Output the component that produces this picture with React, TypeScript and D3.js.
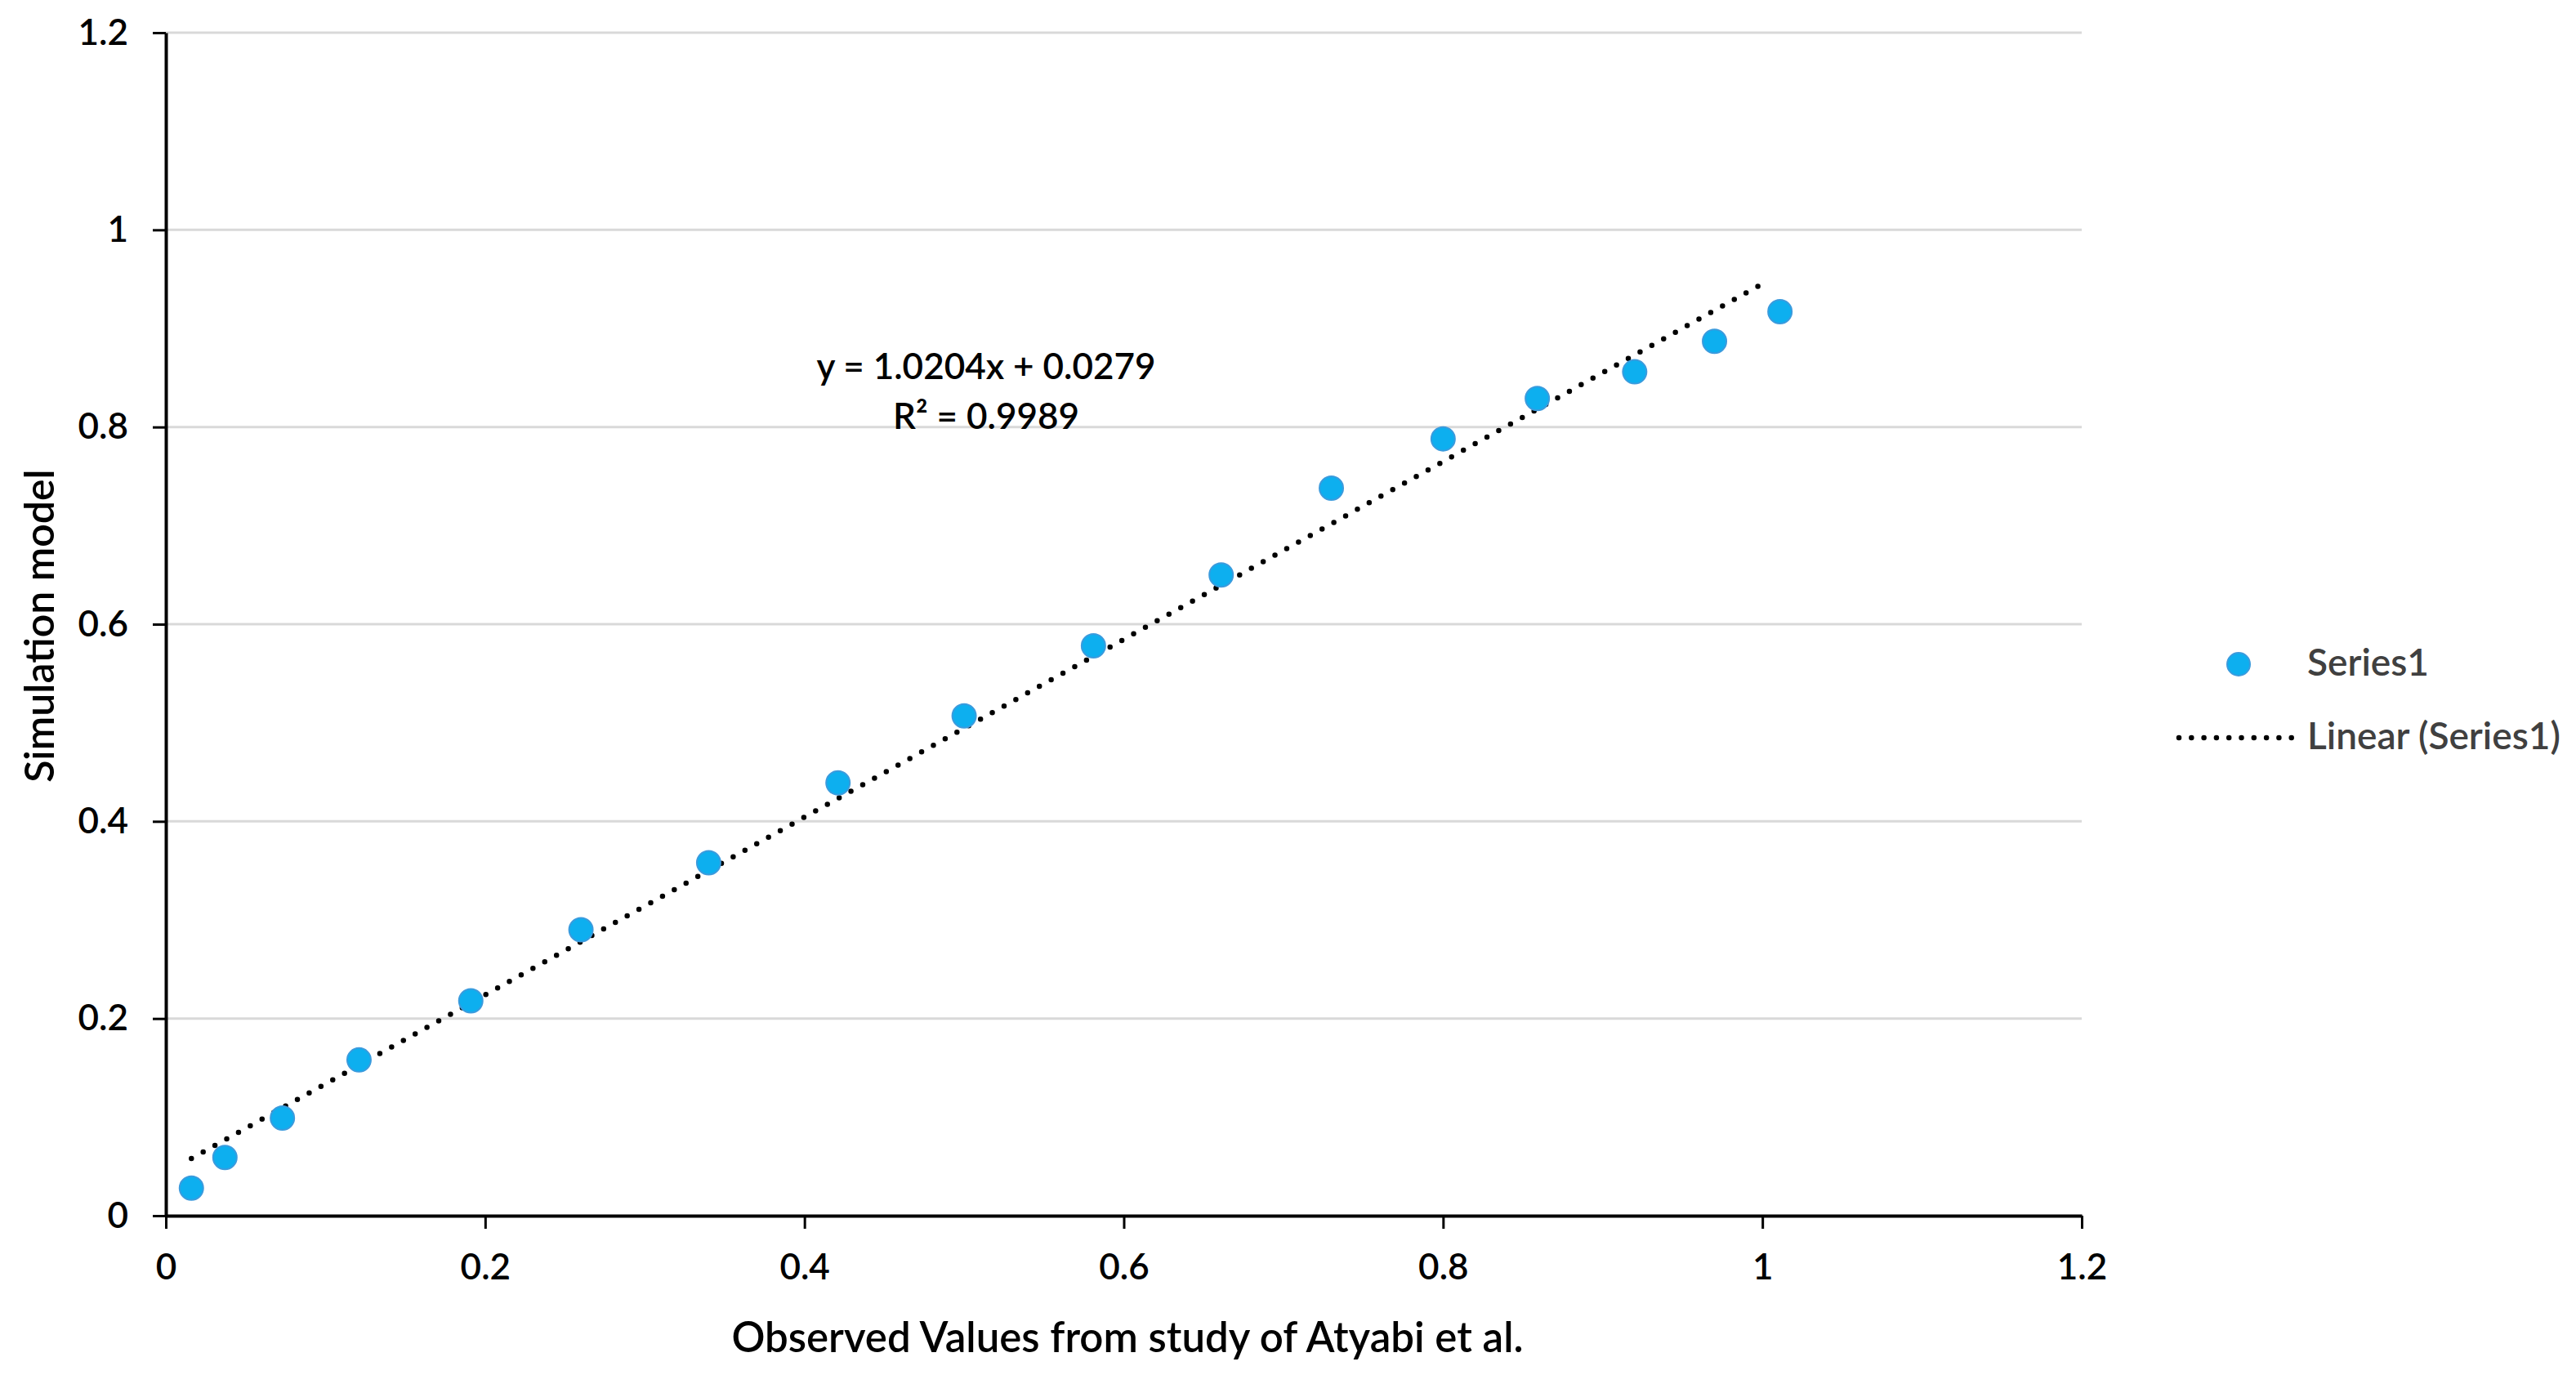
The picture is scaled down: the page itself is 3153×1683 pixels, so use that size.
import { useEffect, useRef } from 'react';
import * as d3 from 'd3';

// observed (x) vs simulated (y) values
const observed = [0.016, 0.037, 0.073, 0.121, 0.191, 0.26, 0.34, 0.421, 0.5, 0.581, 0.661, 0.73, 0.8, 0.859, 0.92, 0.97, 1.011];
const simulated = [0.028, 0.059, 0.099, 0.158, 0.218, 0.29, 0.358, 0.439, 0.507, 0.578, 0.65, 0.738, 0.788, 0.829, 0.856, 0.887, 0.917];

// trendline end points as drawn in the figure
const trendX = [0.016, 1.003];
const trendY = [0.058, 0.948];

const xTicks = [0, 0.2, 0.4, 0.6, 0.8, 1, 1.2];
const yTicks = [0, 0.2, 0.4, 0.6, 0.8, 1, 1.2];

const equationLines = ['y = 1.0204x + 0.0279', 'R² = 0.9989'];
const seriesName = 'Series1';
const trendName = 'Linear (Series1)';
const xTitle = 'Observed Values from study of Atyabi et al.';
const yTitle = 'Simulation model';

const FONT = 'Lato, "Open Sans", sans-serif';
const MARKER = '#0DAFEF';

export default function App() {
  const svgRef = useRef<SVGSVGElement>(null);

  useEffect(() => {
    if (!svgRef.current) return;
    d3.select(svgRef.current).selectAll('*').remove();

    const width = 3153;
    const height = 1683;
    const margin = { top: 40, right: 605, bottom: 195, left: 203 };

    const svg = d3.select(svgRef.current)
      .attr('width', width)
      .attr('height', height);

    svg.append('rect').attr('width', width).attr('height', height).attr('fill', '#fff');

    const x = d3.scaleLinear()
      .domain([0, 1.2])
      .range([margin.left, width - margin.right]);

    const y = d3.scaleLinear()
      .domain([0, 1.2])
      .range([height - margin.bottom, margin.top]);

    // gridlines
    svg.append('g')
      .selectAll('line')
      .data(yTicks.filter(d => d > 0))
      .enter()
      .append('line')
      .attr('x1', x(0))
      .attr('x2', x(1.2))
      .attr('y1', d => y(d))
      .attr('y2', d => y(d))
      .attr('stroke', '#d9d9d9')
      .attr('stroke-width', 3);

    // trendline
    const trend = d3.line<number>()
      .x(d => x(d))
      .y((_, i) => y(trendY[i]));

    svg.append('path')
      .datum(trendX)
      .attr('d', trend)
      .attr('fill', 'none')
      .attr('stroke', '#000')
      .attr('stroke-width', 6.5)
      .attr('stroke-linecap', 'round')
      .attr('stroke-dasharray', '0 16.5');

    // points
    svg.append('g')
      .selectAll('circle')
      .data(observed)
      .enter()
      .append('circle')
      .attr('cx', d => x(d))
      .attr('cy', (_, i) => y(simulated[i]))
      .attr('r', 14.5)
      .attr('fill', MARKER)
      .attr('stroke', '#3B9BDD')
      .attr('stroke-width', 2);

    // axes
    const yAxis = svg.append('g')
      .attr('transform', `translate(${x(0)},0)`)
      .call(d3.axisLeft(y).tickValues(yTicks).tickSize(16).tickSizeOuter(0).tickPadding(30).tickFormat(d => String(d)));

    const xAxis = svg.append('g')
      .attr('transform', `translate(0,${y(0)})`)
      .call(d3.axisBottom(x).tickValues(xTicks).tickSize(16).tickSizeOuter(0).tickPadding(31).tickFormat(d => String(d)));

    [yAxis, xAxis].forEach(g => {
      g.select('.domain').attr('stroke', '#000').attr('stroke-width', 4);
      g.selectAll('.tick line').attr('stroke', '#000').attr('stroke-width', 3);
      g.selectAll('.tick text')
        .attr('fill', '#000')
        .style('font-family', FONT)
        .style('font-size', '44px')
        .style('font-weight', '600');
    });

    // axis titles
    svg.append('text')
      .attr('x', 1380)
      .attr('y', 1655)
      .attr('text-anchor', 'middle')
      .style('font-family', FONT)
      .style('font-size', '51px')
      .style('font-weight', '600')
      .attr('fill', '#000')
      .text(xTitle);

    svg.append('text')
      .attr('transform', `translate(66,${766}) rotate(-90)`)
      .attr('text-anchor', 'middle')
      .style('font-family', FONT)
      .style('font-size', '50px')
      .style('font-weight', '600')
      .attr('fill', '#000')
      .text(yTitle);

    // equation label
    svg.append('g')
      .selectAll('text')
      .data(equationLines)
      .enter()
      .append('text')
      .attr('x', 1207)
      .attr('y', (_, i) => 464 + i * 61)
      .attr('text-anchor', 'middle')
      .style('font-family', FONT)
      .style('font-size', '44px')
      .style('font-weight', '600')
      .attr('fill', '#000')
      .text(d => d);

    // legend
    const legend = svg.append('g');
    legend.append('circle')
      .attr('cx', 2740)
      .attr('cy', 813)
      .attr('r', 14)
      .attr('fill', MARKER)
      .attr('stroke', '#3B9BDD')
      .attr('stroke-width', 2);
    legend.append('line')
      .attr('x1', 2667)
      .attr('x2', 2805)
      .attr('y1', 903)
      .attr('y2', 903)
      .attr('stroke', '#000')
      .attr('stroke-width', 6.5)
      .attr('stroke-linecap', 'round')
      .attr('stroke-dasharray', '0 15.3');
    legend.selectAll('text')
      .data([seriesName, trendName])
      .enter()
      .append('text')
      .attr('x', 2824)
      .attr('y', (_, i) => 827 + i * 90)
      .style('font-family', FONT)
      .style('font-size', '46px')
      .style('font-weight', '600')
      .attr('fill', '#404040')
      .text(d => d);
  }, []);

  return (
    <svg ref={svgRef} style={{ position: 'absolute', left: 0, top: 0, display: 'block' }}></svg>
  );
}
